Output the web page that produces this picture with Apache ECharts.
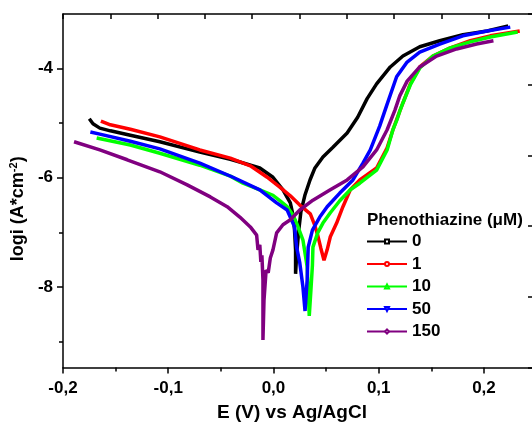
<!DOCTYPE html>
<html><head><meta charset="utf-8">
<script src="https://cdn.jsdelivr.net/npm/echarts@6/dist/echarts.min.js"></script>
<style>html,body{margin:0;padding:0;background:#fff}#c{width:532px;height:422px}</style>
</head><body><div id="c"></div>
<script>
// ---- data ----
const seriesNames = ['0', '1', '10', '50', '150'];
const data0 = [[-0.175,-4.92],[-0.1715,-5.01],[-0.165,-5.09],[-0.155,-5.14],[-0.136,-5.22],[-0.108,-5.34],[-0.070,-5.53],[-0.041,-5.66],[-0.032,-5.71],[-0.013,-5.82],[-0.0005,-5.99],[0.009,-6.22],[0.016,-6.46],[0.0185,-6.68],[0.020,-6.96],[0.021,-7.32],[0.021,-7.76],[0.022,-7.41],[0.024,-6.96],[0.026,-6.63],[0.030,-6.31],[0.0347,-6.04],[0.0394,-5.82],[0.047,-5.62],[0.0565,-5.44],[0.070,-5.18],[0.080,-4.89],[0.089,-4.55],[0.098,-4.28],[0.111,-3.97],[0.123,-3.77],[0.139,-3.60],[0.158,-3.49],[0.180,-3.38],[0.203,-3.31],[0.223,-3.22]];
const data1 = [[-0.164,-4.96],[-0.155,-5.03],[-0.136,-5.11],[-0.108,-5.25],[-0.070,-5.49],[-0.041,-5.64],[-0.022,-5.78],[-0.006,-5.99],[0.006,-6.17],[0.016,-6.33],[0.025,-6.50],[0.035,-6.66],[0.039,-6.86],[0.042,-7.05],[0.045,-7.29],[0.048,-7.51],[0.051,-7.32],[0.054,-7.08],[0.060,-6.83],[0.066,-6.53],[0.073,-6.22],[0.082,-6.04],[0.098,-5.82],[0.108,-5.45],[0.1135,-5.12],[0.120,-4.78],[0.130,-4.28],[0.139,-3.97],[0.1515,-3.77],[0.168,-3.62],[0.187,-3.49],[0.206,-3.40],[0.234,-3.31]];
const data10 = [[-0.168,-5.27],[-0.136,-5.40],[-0.108,-5.55],[-0.070,-5.77],[-0.041,-5.97],[-0.029,-6.10],[-0.013,-6.22],[-0.0005,-6.32],[0.006,-6.42],[0.013,-6.53],[0.0185,-6.68],[0.022,-6.83],[0.028,-7.14],[0.032,-7.63],[0.033,-8.05],[0.034,-8.53],[0.0356,-8.05],[0.037,-7.60],[0.0375,-7.27],[0.042,-7.01],[0.047,-6.83],[0.054,-6.64],[0.063,-6.42],[0.073,-6.22],[0.082,-6.10],[0.098,-5.86],[0.108,-5.49],[0.1135,-5.12],[0.1173,-4.94],[0.120,-4.78],[0.123,-4.63],[0.130,-4.30],[0.139,-3.99],[0.1515,-3.77],[0.168,-3.62],[0.187,-3.51],[0.206,-3.42],[0.232,-3.33]];
const data50 = [[-0.174,-5.16],[-0.165,-5.20],[-0.136,-5.33],[-0.108,-5.47],[-0.070,-5.73],[-0.0385,-5.99],[-0.013,-6.22],[0.003,-6.46],[0.013,-6.59],[0.020,-6.90],[0.022,-7.27],[0.025,-7.56],[0.028,-8.00],[0.030,-8.44],[0.032,-7.87],[0.033,-7.27],[0.037,-6.96],[0.044,-6.72],[0.051,-6.53],[0.063,-6.28],[0.0755,-6.04],[0.085,-5.73],[0.092,-5.49],[0.101,-5.05],[0.108,-4.65],[0.117,-4.15],[0.127,-3.88],[0.139,-3.70],[0.158,-3.55],[0.180,-3.40],[0.203,-3.31],[0.225,-3.24]];
const data150 = [[-0.1895,-5.34],[-0.165,-5.49],[-0.139,-5.67],[-0.108,-5.89],[-0.082,-6.13],[-0.060,-6.35],[-0.044,-6.53],[-0.032,-6.72],[-0.022,-6.90],[-0.016,-7.05],[-0.0147,-7.32],[-0.013,-7.23],[-0.012,-7.54],[-0.011,-7.42],[-0.010,-7.87],[-0.010,-8.97],[-0.009,-8.24],[-0.007,-7.69],[-0.005,-7.74],[-0.003,-7.47],[-0.0005,-7.32],[0.003,-7.01],[0.009,-6.86],[0.016,-6.77],[0.025,-6.59],[0.0375,-6.41],[0.054,-6.22],[0.070,-6.04],[0.085,-5.80],[0.098,-5.49],[0.108,-5.12],[0.1154,-4.76],[0.120,-4.50],[0.127,-4.23],[0.139,-3.97],[0.155,-3.77],[0.174,-3.64],[0.193,-3.55],[0.209,-3.49]];
const xMajorTicks = [-0.2, -0.1, 0, 0.1, 0.2];
const xMinorTicks = [-0.15, -0.05, 0.05, 0.15];
const yMajorTicks = [-8, -6, -4];
const yMinorTicks = [-9, -7, -5];
const legendTitle = 'Phenothiazine (μM)';
const xTitle = 'E (V) vs Ag/AgCl';

// ---- styles ----
const FONT = '"Liberation Sans", Arial, sans-serif';
const colors = ['#000000', '#ff0000', '#00ff00', '#0000ff', '#800080'];
const symbols = ['emptyRect', 'emptyCircle', 'emptyTriangle', 'emptyTriangle', 'emptyDiamond'];
const rotates = [0, 0, 0, 180, 0];
const allData = [data0, data1, data10, data50, data150];
const X_MIN = -0.2, X_MAX = 0.2466, Y_MIN = -9.475, Y_MAX = -3;
const axisLineStyle = { color: '#000', width: 1.5 };

const chart = echarts.init(document.getElementById('c'));
chart.setOption({
  animation: false,
  grid: { left: 63, top: 14, width: 470, height: 353.5, containLabel: false, outerBoundsMode: 'none' },
  title: {
    text: legendTitle, left: 362, top: 207,
    textStyle: { fontFamily: FONT, fontWeight: 'bold', fontSize: 17, color: '#000' }
  },
  legend: {
    orient: 'vertical', left: 366, top: 233, padding: 0,
    itemWidth: 40, itemHeight: 5, itemGap: 5.5,
    data: seriesNames,
    lineStyle: { width: 2 },
    textStyle: { fontFamily: FONT, fontWeight: 'bold', fontSize: 17, color: '#000' }
  },
  xAxis: [
    {
      type: 'value', position: 'bottom', min: X_MIN, max: X_MAX,
      axisLine: { onZero: false, lineStyle: axisLineStyle },
      splitLine: { show: false },
      axisTick: { customValues: xMajorTicks, length: 6, lineStyle: axisLineStyle },
      axisLabel: {
        customValues: xMajorTicks, margin: 12,
        formatter: v => v.toFixed(1).replace('.', ','),
        fontFamily: FONT, fontWeight: 'bold', fontSize: 17, color: '#000'
      },
      name: xTitle, nameLocation: 'middle', nameGap: 36,
      nameTextStyle: { fontFamily: FONT, fontWeight: 'bold', fontSize: 19, color: '#000', padding: [0, 12, 0, 0] }
    },
    {
      type: 'value', position: 'bottom', min: X_MIN, max: X_MAX,
      axisLine: { show: false, onZero: false }, splitLine: { show: false },
      axisTick: { customValues: xMinorTicks, length: 4, lineStyle: axisLineStyle },
      axisLabel: { show: false }
    },
    {
      type: 'value', position: 'top', min: 0, max: 9.94, interval: 1,
      axisLine: { onZero: false, lineStyle: axisLineStyle }, splitLine: { show: false },
      axisTick: { inside: true, length: 5, lineStyle: axisLineStyle },
      axisLabel: { show: false }
    }
  ],
  yAxis: [
    {
      type: 'value', position: 'left', min: Y_MIN, max: Y_MAX,
      axisLine: { show: true, onZero: false, lineStyle: axisLineStyle },
      splitLine: { show: false },
      axisTick: { show: true, customValues: yMajorTicks, length: 6, lineStyle: axisLineStyle },
      axisLabel: {
        customValues: yMajorTicks, margin: 10,
        formatter: v => String(v),
        fontFamily: FONT, fontWeight: 'bold', fontSize: 17, color: '#000'
      },
      name: 'logi (A*cm{sup|-2})', nameLocation: 'middle', nameGap: 32,
      nameTextStyle: {
        fontFamily: FONT, fontWeight: 'bold', fontSize: 18, color: '#000',
        padding: [0, 36, 0, 0],
        rich: { sup: { fontFamily: FONT, fontWeight: 'bold', fontSize: 11, color: '#000', verticalAlign: 'top', padding: [0, 0, 8, 0] } }
      }
    },
    {
      type: 'value', position: 'left', min: Y_MIN, max: Y_MAX,
      axisLine: { show: false, onZero: false }, splitLine: { show: false },
      axisTick: { show: true, customValues: yMinorTicks, length: 4, lineStyle: axisLineStyle },
      axisLabel: { show: false }
    },
    {
      type: 'value', position: 'right', min: 0, max: 5, interval: 1,
      axisLine: { show: true, onZero: false, lineStyle: axisLineStyle }, splitLine: { show: false },
      axisTick: { show: true, inside: true, length: 5, lineStyle: axisLineStyle },
      axisLabel: { show: false }
    }
  ],
  series: allData.map((d, i) => ({
    type: 'line', name: seriesNames[i], data: d,
    xAxisIndex: 0, yAxisIndex: 0,
    symbol: symbols[i], symbolRotate: rotates[i], symbolSize: 4,
    showSymbol: false, clip: true,
    lineStyle: { width: 3.5, color: colors[i] },
    itemStyle: { color: colors[i] },
    z: 2 + i
  }))
});
</script></body></html>
